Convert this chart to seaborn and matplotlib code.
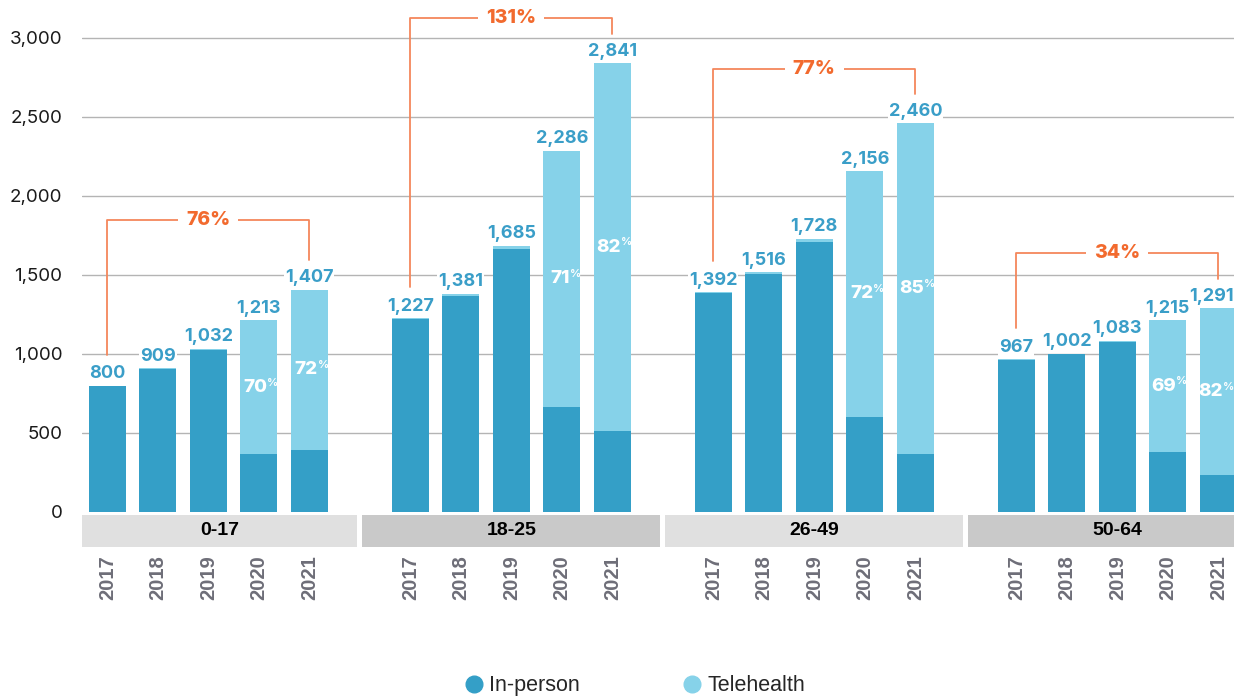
import numpy as np
import pandas as pd
import matplotlib
matplotlib.use('Agg')
import matplotlib.pyplot as plt
import matplotlib.transforms as mtransforms
from matplotlib.lines import Line2D
from matplotlib.patches import Rectangle
import seaborn as sns

# data
age_groups = ['0-17', '18-25', '26-49', '50-64']
years = ['2017', '2018', '2019', '2020', '2021']

total_visits = [
    [800, 909, 1032, 1213, 1407],
    [1227, 1381, 1685, 2286, 2841],
    [1392, 1516, 1728, 2156, 2460],
    [967, 1002, 1083, 1215, 1291],
]
tele_visits = [
    [0, 4, 6, 849, 1013],
    [3, 16, 22, 1623, 2330],
    [6, 8, 20, 1552, 2091],
    [2, 3, 5, 838, 1059],
]
tele_share = [[70, 72], [71, 82], [72, 85], [69, 82]]
growth = ['76%', '131%', '77%', '34%']

# layout only (bracket top heights)
bracket_top = [1850, 3125, 2805, 1640]

INP = '#349fc7'
TELE = '#86d2e9'
ORANGE = '#f26a2e'
LABEL_BLUE = '#3a9ec8'

rows = []
for g, grp in enumerate(age_groups):
    for j, yr in enumerate(years):
        rows.append({'group': grp, 'year': yr, 'pos': g * 6 + j,
                     'total': total_visits[g][j],
                     'inperson': total_visits[g][j] - tele_visits[g][j],
                     'tele': tele_visits[g][j]})
df = pd.DataFrame(rows)

sns.set_style('white')
plt.rcParams['font.family'] = ['Inter', 'DejaVu Sans']

fig = plt.figure(figsize=(12.34, 6.96), dpi=100)
ax = fig.add_axes([82 / 1234, 1 - 512 / 696, 1 - 82 / 1234, 512 / 696])

sns.barplot(data=df, x='pos', y='total', native_scale=True, color=TELE,
            saturation=1, width=0.73, errorbar=None, ax=ax, zorder=2, linewidth=0)
sns.barplot(data=df, x='pos', y='inperson', native_scale=True, color=INP,
            saturation=1, width=0.73, errorbar=None, ax=ax, zorder=3, linewidth=0)

ax.set_xlim(-0.5, 22.31)
ax.set_ylim(0, 3240)
for v in range(500, 3001, 500):
    ax.axhline(v, color='#b4b4b4', lw=1, zorder=1)
for s in ax.spines.values():
    s.set_visible(False)

ax.set_yticks(range(0, 3001, 500))
ax.set_yticklabels([f'{v:,}' for v in range(0, 3001, 500)], fontsize=13.5, color='#1a1a1a')
ax.tick_params(axis='y', length=0, pad=14)
ax.set_xticks(df['pos'])
ax.set_xticklabels(df['year'], rotation=90, fontsize=14.5, fontweight='bold', color='#6e6e78')
for lab in ax.get_xticklabels():
    lab.set_fontfamily('Liberation Sans')
ax.tick_params(axis='x', length=0, pad=31)
ax.set_xlabel('')
ax.set_ylabel('')

# totals on top of bars
for i, r in df.iterrows():
    dx = -5 if i == len(df) - 1 else 0
    ax.annotate(f"{r['total']:,}", xy=(r['pos'], r['total']), xytext=(dx, 2.5),
                textcoords='offset points', ha='center', va='bottom',
                fontsize=13, fontweight='bold', color=LABEL_BLUE, zorder=6,
                bbox=dict(fc='white', ec='none', pad=0.6))

# telehealth share inside 2020/2021 bars
for g in range(4):
    for k, j in enumerate([3, 4]):
        pos = g * 6 + j
        mid = total_visits[g][j] - tele_visits[g][j] / 2
        dx = 3 if (g == 3 and j == 4) else 6
        ax.annotate(str(tele_share[g][k]), xy=(pos, mid), xytext=(dx, 0),
                    textcoords='offset points', ha='right', va='center',
                    fontsize=13.5, fontweight='heavy', color='white', zorder=6)
        ax.annotate('%', xy=(pos, mid), xytext=(dx, 3.5),
                    textcoords='offset points', ha='left', va='center',
                    fontsize=8, fontweight='bold', color='white', zorder=6)

# growth brackets 2017 -> 2021
for g in range(4):
    x0, x1 = g * 6, g * 6 + 4
    y0 = total_visits[g][0] + 195
    y1 = total_visits[g][4] + 185
    top = bracket_top[g]
    ax.plot([x0, x0, x1, x1], [y0, top, top, y1], color='#f4875c', lw=1.3,
            zorder=4, clip_on=False)
    ax.text((x0 + x1) / 2, top, growth[g], ha='center', va='center',
            fontsize=14, fontweight='heavy', color=ORANGE, zorder=7,
            bbox=dict(boxstyle='square,pad=0.4', fc='white', ec='none'))

# age group boxes under the axis
trans = mtransforms.blended_transform_factory(ax.transData, ax.transAxes)
box_cols = ['#e0e0e0', '#c9c9c9', '#e0e0e0', '#c9c9c9']
for g, grp in enumerate(age_groups):
    left = max(g * 6 - 1 + 0.05, -0.5)
    right = g * 6 + 5 - 0.05
    ax.add_patch(Rectangle((left, -0.068), right - left, 0.062, transform=trans,
                           fc=box_cols[g], ec='none', clip_on=False))
    cx = (left + right) / 2 if g < 3 else g * 6 + 2
    ax.text(cx, -0.037, grp, transform=trans, ha='center', va='center',
            fontsize=14, fontweight='bold', color='black', family=['Liberation Sans'])

handles = [Line2D([], [], marker='o', ls='', color=INP, markersize=12),
           Line2D([], [], marker='o', ls='', color=TELE, markersize=12)]
fig.legend(handles, ['In-person', 'Telehealth'], loc='lower center',
           bbox_to_anchor=(0.513, -0.028), ncol=2, frameon=False,
           prop={'family': 'Liberation Sans', 'size': 15.5},
           columnspacing=4.6, handletextpad=0.1, handlelength=1.2)

fig.savefig('out.png', dpi=100)
